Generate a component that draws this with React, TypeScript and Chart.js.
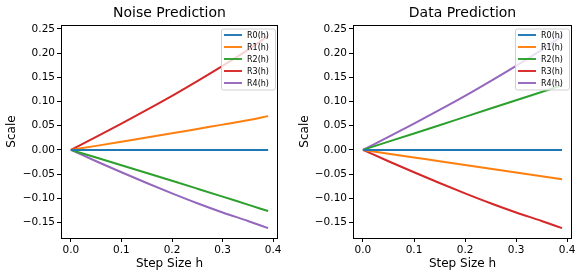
import React, { useEffect, useRef } from "react";
import { Chart, registerables } from "chart.js";

Chart.register(...registerables);

const hValues = [0, 0.05, 0.1, 0.15, 0.2, 0.25, 0.3, 0.35, 0.39];

const seriesNames = ["R0(h)", "R1(h)", "R2(h)", "R3(h)", "R4(h)"];
const seriesColors = ["#1f77b4", "#ff7f0e", "#2ca02c", "#d62728", "#9467bd"];

// Noise Prediction
const noiseR0 = [0, 0, 0, 0, 0, 0, 0, 0, 0];
const noiseR1 = [0, 0.0083, 0.0168, 0.0254, 0.0342, 0.0432, 0.0522, 0.0612, 0.0698];
const noiseR2 = [0, -0.0158, -0.0317, -0.0477, -0.0638, -0.0801, -0.0965, -0.1131, -0.1263];
const noiseR3 = [0, 0.027, 0.0545, 0.0825, 0.1115, 0.142, 0.1735, 0.2065, 0.2355];
const noiseR4 = [0, -0.0235, -0.0462, -0.0683, -0.0897, -0.1101, -0.1292, -0.1468, -0.1615];

// Data Prediction
const dataR0 = [0, 0, 0, 0, 0, 0, 0, 0, 0];
const dataR1 = [0, -0.0078, -0.0156, -0.0234, -0.0312, -0.039, -0.0468, -0.0546, -0.0607];
const dataR2 = [0, 0.017, 0.034, 0.051, 0.0683, 0.0855, 0.1025, 0.1195, 0.1335];
const dataR3 = [0, -0.0235, -0.0462, -0.0683, -0.0897, -0.1101, -0.1292, -0.1468, -0.1615];
const dataR4 = [0, 0.027, 0.0545, 0.0825, 0.1115, 0.142, 0.1735, 0.2065, 0.2355];

const xTicks = [0, 0.1, 0.2, 0.3, 0.4];
const xTickLabels = ["0.0", "0.1", "0.2", "0.3", "0.4"];
const yTicks = [-0.15, -0.1, -0.05, 0, 0.05, 0.1, 0.15, 0.2, 0.25];
const yTickLabels = ["\u22120.15", "\u22120.10", "\u22120.05", "0.00", "0.05", "0.10", "0.15", "0.20", "0.25"];

const xMin = -0.0195;
const xMax = 0.4095;
const yMin = -0.182;
const yMax = 0.258;

const FONT = "'DejaVu Sans', sans-serif";

function labelFor(vals: number[], labels: string[], v: number) {
  const i = vals.findIndex((t) => Math.abs(t - v) < 1e-9);
  return i >= 0 ? labels[i] : "";
}

const framePlugin = {
  id: "frame",
  afterDatasetsDraw(chart: any) {
    const { ctx, chartArea } = chart;
    ctx.save();
    ctx.strokeStyle = "#000";
    ctx.lineWidth = 1;
    ctx.strokeRect(
      Math.round(chartArea.left) + 0.5,
      Math.round(chartArea.top) + 0.5,
      Math.round(chartArea.right - chartArea.left) - 1,
      Math.round(chartArea.bottom - chartArea.top)
    );
    ctx.restore();
  },
};

const legendPlugin = {
  id: "innerLegend",
  afterDraw(chart: any) {
    const { ctx, chartArea } = chart;
    const w = 54;
    const h = 61;
    const x = chartArea.right - 3 - w;
    const y = chartArea.top + 3.5;
    ctx.save();
    ctx.fillStyle = "rgba(255,255,255,0.8)";
    ctx.strokeStyle = "#d0d0d0";
    ctx.lineWidth = 1;
    ctx.beginPath();
    (ctx as any).roundRect(x + 0.5, y + 0.5, w, h, 2);
    ctx.fill();
    ctx.stroke();
    ctx.font = `8px ${FONT}`;
    ctx.textBaseline = "middle";
    ctx.textAlign = "left";
    chart.data.datasets.forEach((ds: any, i: number) => {
      const ry = y + 6.5 + i * 12;
      ctx.strokeStyle = ds.borderColor;
      ctx.lineWidth = 1.9;
      ctx.beginPath();
      ctx.moveTo(x + 3, ry);
      ctx.lineTo(x + 21, ry);
      ctx.stroke();
      ctx.fillStyle = "#000";
      ctx.fillText(ds.label, x + 26, ry + 0.5);
    });
    ctx.restore();
  },
};

function makeConfig(title: string, series: number[][], rightPad: number, yAxisWidth: number, yTitlePad: number) {
  return {
    type: "line" as const,
    data: {
      datasets: series.map((vals, i) => ({
        label: seriesNames[i],
        data: hValues.map((h, j) => ({ x: h, y: vals[j] })),
        borderColor: seriesColors[i],
        backgroundColor: seriesColors[i],
        borderWidth: 2,
        pointRadius: 0,
        cubicInterpolationMode: "monotone" as const,
        fill: false,
      })),
    },
    options: {
      animation: false as const,
      responsive: false,
      devicePixelRatio: 1,
      layout: { padding: { left: 0, right: rightPad, top: 0, bottom: 0 } },
      plugins: {
        legend: { display: false },
        tooltip: { enabled: false },
        title: {
          display: true,
          fullSize: false,
          text: title,
          color: "#000",
          font: { family: FONT, size: 14, weight: "normal" as const, lineHeight: 1.2 },
          padding: { top: 5, bottom: 3.2 },
        },
      },
      scales: {
        x: {
          type: "linear" as const,
          min: xMin,
          max: xMax,
          afterBuildTicks(scale: any) {
            scale.ticks = xTicks.map((v) => ({ value: v }));
          },
          afterFit(scale: any) {
            scale.height = 40;
          },
          ticks: {
            color: "#000",
            padding: 2,
            maxRotation: 0,
            autoSkip: false,
            font: { family: FONT, size: 10.5 },
            callback: (v: any) => labelFor(xTicks, xTickLabels, Number(v)),
          },
          grid: { drawOnChartArea: false, drawTicks: true, tickLength: 4, color: "#000" },
          border: { display: false },
          title: {
            display: true,
            text: "Step Size h",
            color: "#000",
            font: { family: FONT, size: 12, lineHeight: 1.2 },
            padding: { top: 0, bottom: 7 },
          },
        },
        y: {
          type: "linear" as const,
          min: yMin,
          max: yMax,
          afterBuildTicks(scale: any) {
            scale.ticks = yTicks.map((v) => ({ value: v }));
          },
          afterFit(scale: any) {
            scale.width = yAxisWidth;
          },
          ticks: {
            color: "#000",
            padding: 2,
            autoSkip: false,
            font: { family: FONT, size: 10.5 },
            callback: (v: any) => labelFor(yTicks, yTickLabels, Number(v)),
          },
          grid: { drawOnChartArea: false, drawTicks: true, tickLength: 4, color: "#000" },
          border: { display: false },
          title: {
            display: true,
            text: "Scale",
            color: "#000",
            font: { family: FONT, size: 12, lineHeight: 1.2 },
            padding: { top: yTitlePad, bottom: 0 },
          },
        },
      },
    },
    plugins: [framePlugin, legendPlugin],
  };
}

export default function App() {
  const leftRef = useRef<HTMLCanvasElement>(null);
  const rightRef = useRef<HTMLCanvasElement>(null);

  useEffect(() => {
    document.body.style.margin = "0";
    const c1 = new Chart(
      leftRef.current as HTMLCanvasElement,
      makeConfig("Noise Prediction", [noiseR0, noiseR1, noiseR2, noiseR3, noiseR4], 12, 61, 5) as any
    );
    const c2 = new Chart(
      rightRef.current as HTMLCanvasElement,
      makeConfig("Data Prediction", [dataR0, dataR1, dataR2, dataR3, dataR4], 9, 63, 8) as any
    );
    return () => {
      c1.destroy();
      c2.destroy();
    };
  }, []);

  return (
    <div style={{ position: "fixed", left: 0, top: 0, width: 581, height: 278, background: "#fff" }}>
      <canvas
        ref={leftRef}
        width={290}
        height={278}
        style={{ position: "absolute", left: 0, top: 0, width: 290, height: 278 }}
      />
      <canvas
        ref={rightRef}
        width={291}
        height={278}
        style={{ position: "absolute", left: 290, top: 0, width: 291, height: 278 }}
      />
    </div>
  );
}
